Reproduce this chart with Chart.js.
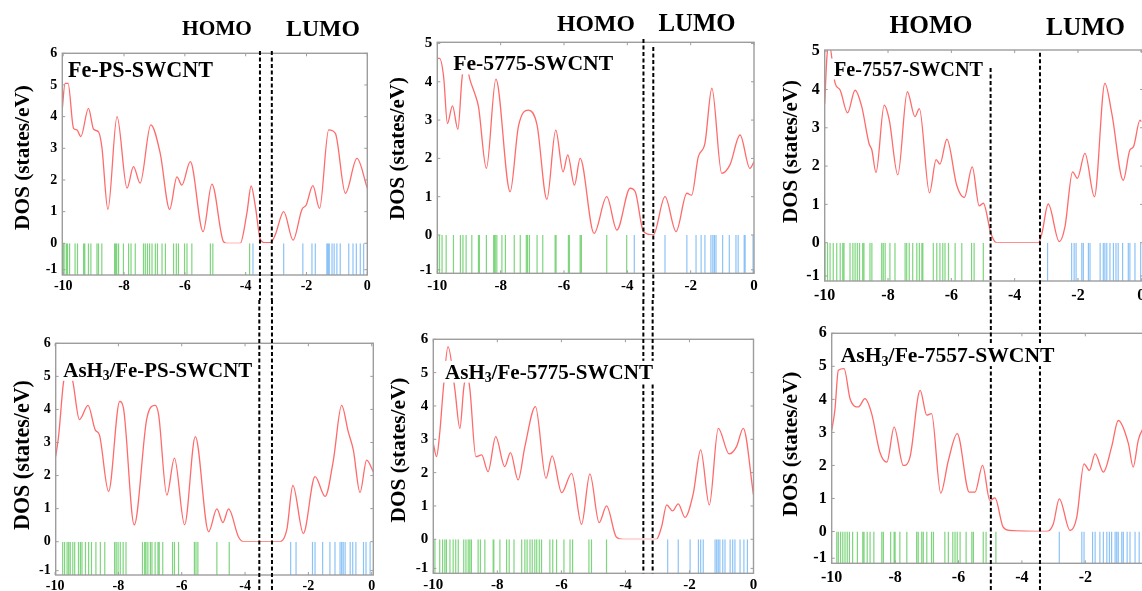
<!DOCTYPE html>
<html><head><meta charset="utf-8">
<script src="https://cdn.jsdelivr.net/npm/chart.js@4.4.1/dist/chart.umd.min.js"></script>
<style>
html,body{margin:0;padding:0;background:#fff;}
body{width:1142px;height:591px;position:relative;overflow:hidden;}
canvas{position:absolute;}
</style></head><body>
<script>
// ================= DATA =================
const xTickValues = [-10, -8, -6, -4, -2, 0];
const dosTicks6 = [0, 1, 2, 3, 4, 5, 6];
const dosTicks5 = [0, 1, 2, 3, 4, 5];
const stickTicks = [-1];
const bandNames = ['HOMO', 'LUMO'];
const yAxisTitle = 'DOS (states/eV)';

// Fe-PS-SWCNT
const fePsTitle = [['Fe-PS-SWCNT', 0]];
const fePsEnergy = [-10.03,-9.94,-9.84,-9.66,-9.55,-9.42,-9.17,-9.00,-8.84,-8.73,-8.53,-8.23,-7.90,-7.69,-7.47,-7.12,-6.81,-6.50,-6.26,-6.10,-5.82,-5.40,-5.11,-4.73,-4.62,-4.18,-3.96,-3.82,-3.68,-3.52,-3.36,-3.19,-3.03,-2.75,-2.44,-2.15,-2.01,-1.79,-1.57,-1.27,-1.05,-0.72,-0.34,0];
const fePsDos = [4.25,5.05,5.05,3.63,3.58,3.37,4.26,3.60,3.52,3.05,1.07,4.00,1.74,2.42,1.90,3.74,2.84,1.07,2.10,1.84,2.58,0.37,1.87,0.05,0.00,0.00,0.95,1.81,1.16,0.13,0.02,0.02,0.26,1.00,0.10,1.07,1.21,1.82,1.10,3.58,3.47,1.58,2.68,1.74];
const fePsOcc = [-10.01,-9.97,-9.90,-9.86,-9.79,-9.61,-9.53,-9.33,-9.29,-9.17,-9.09,-8.89,-8.84,-8.73,-8.31,-8.28,-8.24,-8.18,-8.02,-7.85,-7.77,-7.63,-7.36,-7.30,-7.23,-7.16,-7.08,-6.97,-6.90,-6.75,-6.64,-6.37,-6.28,-6.21,-6.01,-5.93,-5.77,-5.16,-5.08,-3.87];
const fePsUnocc = [-3.76,-2.75,-2.12,-1.82,-1.71,-1.33,-1.29,-1.25,-1.16,-1.09,-1.00,-0.89,-0.61,-0.47,-0.36,-0.23,-0.12];
const fePsGap = [-3.53, -3.14];

// AsH3/Fe-PS-SWCNT
const asFePsTitle = [['AsH', 0], ['3', 1], ['/Fe-PS-SWCNT', 0]];
const asFePsEnergy = [-9.98,-9.89,-9.73,-9.59,-9.44,-9.23,-8.96,-8.73,-8.60,-8.31,-7.96,-7.84,-7.50,-7.10,-6.84,-6.73,-6.47,-6.23,-5.91,-5.57,-5.15,-4.89,-4.70,-4.52,-4.21,-4.05,-2.89,-2.68,-2.49,-2.16,-1.79,-1.47,-1.21,-0.95,-0.74,-0.58,-0.37,-0.16,0.05];
const asFePsDos = [2.58,3.18,4.85,5.30,4.85,3.69,4.12,3.38,3.23,1.52,4.24,4.04,0.51,3.74,4.12,3.84,1.41,2.53,0.51,3.18,0.30,0.99,0.58,0.99,0.15,0.00,0.00,0.37,1.70,0.25,1.97,1.37,2.47,4.12,3.32,2.77,1.49,2.47,2.12];
const asFePsOcc = [-9.76,-9.70,-9.62,-9.57,-9.52,-9.44,-9.38,-9.26,-9.20,-9.15,-9.04,-8.94,-8.85,-8.71,-8.57,-8.43,-8.12,-8.07,-8.01,-7.94,-7.85,-7.76,-7.24,-7.17,-7.13,-7.07,-6.99,-6.94,-6.84,-6.75,-6.71,-6.60,-6.29,-6.23,-6.10,-5.60,-5.55,-5.49,-4.89,-4.50];
const asFePsUnocc = [-2.56,-2.39,-1.87,-1.79,-1.55,-1.32,-1.16,-1.00,-0.95,-0.90,-0.84,-0.68,-0.60,-0.50,-0.26,-0.18,-0.05];
const asFePsGap = [-3.55, -3.15];

// Fe-5775-SWCNT
const fe5775Title = [['Fe-5775-SWCNT', 0]];
const fe5775Energy = [-10.0,-9.93,-9.80,-9.68,-9.52,-9.35,-9.22,-9.11,-8.98,-8.80,-8.70,-8.45,-8.15,-7.70,-7.44,-7.12,-6.85,-6.54,-6.26,-6.03,-5.88,-5.67,-5.49,-5.05,-4.65,-4.33,-3.91,-3.75,-3.49,-3.18,-2.81,-2.46,-2.12,-1.97,-1.76,-1.55,-1.33,-1.02,-0.76,-0.44,-0.13,0];
const fe5775Dos = [4.61,4.61,4.13,2.91,3.37,2.76,4.09,4.60,4.09,3.65,3.35,1.74,4.07,1.13,2.83,3.26,2.87,0.93,2.74,1.65,2.09,1.30,2.00,0.04,1.00,0.13,1.22,1.13,0.09,0.00,1.00,0.09,1.09,1.04,2.04,2.39,3.83,1.61,1.83,2.61,1.74,1.91];
const fe5775Occ = [-9.99,-9.93,-9.85,-9.72,-9.49,-9.27,-9.19,-9.09,-8.91,-8.70,-8.67,-8.45,-8.22,-8.19,-8.17,-8.12,-7.96,-7.85,-7.57,-7.38,-7.19,-7.15,-7.09,-6.85,-6.67,-6.28,-6.25,-5.86,-5.83,-5.49,-5.45,-4.65,-4.02];
const fe5775Unocc = [-3.78,-2.81,-2.12,-1.83,-1.67,-1.55,-1.36,-1.30,-1.25,-1.20,-0.99,-0.78,-0.57,-0.50,-0.31,-0.28,-0.03];
const fe5775Gap = [-3.49, -3.18];

// AsH3/Fe-5775-SWCNT
const asFe5775Title = [['AsH', 0], ['3', 1], ['/Fe-5775-SWCNT', 0]];
const asFe5775Energy = [-10.0,-9.90,-9.80,-9.69,-9.54,-9.33,-9.17,-9.05,-8.96,-8.86,-8.67,-8.49,-8.29,-8.05,-7.77,-7.59,-7.35,-7.14,-6.81,-6.48,-6.29,-5.99,-5.68,-5.37,-5.11,-4.82,-4.59,-4.28,-4.07,-3.03,-2.87,-2.71,-2.53,-2.35,-2.14,-1.88,-1.65,-1.38,-1.10,-0.76,-0.53,-0.32,0];
const asFe5775Dos = [2.88,2.48,3.18,4.48,5.78,4.53,3.33,4.53,5.00,4.53,2.48,2.53,2.03,3.08,2.18,2.60,1.78,2.78,3.98,1.83,2.50,1.40,1.98,0.45,1.96,0.50,1.00,0.06,0.00,0.00,0.38,1.03,0.85,1.06,0.66,1.38,2.68,1.03,3.33,2.56,2.78,3.33,1.33];
const asFe5775Occ = [-9.95,-9.80,-9.71,-9.64,-9.59,-9.48,-9.38,-9.30,-9.22,-9.05,-8.98,-8.91,-8.86,-8.81,-8.60,-8.53,-8.39,-8.13,-8.11,-7.92,-7.71,-7.63,-7.48,-7.24,-7.14,-7.07,-6.98,-6.91,-6.83,-6.77,-6.69,-6.62,-6.36,-6.27,-6.15,-5.92,-5.73,-5.65,-5.14,-5.06,-4.59];
const asFe5775Unocc = [-2.68,-2.35,-1.98,-1.72,-1.65,-1.57,-1.20,-1.15,-1.10,-1.05,-0.96,-0.89,-0.73,-0.65,-0.58,-0.42,-0.30,-0.19];
const asFe5775Gap = [-3.44, -3.15];

// Fe-7557-SWCNT
const fe7557Title = [['Fe-7557-SWCNT', 0]];
const fe7557Energy = [-10.0,-9.93,-9.86,-9.67,-9.51,-9.28,-9.04,-8.83,-8.60,-8.51,-8.38,-8.12,-7.96,-7.69,-7.39,-7.15,-7.01,-6.69,-6.48,-6.36,-6.14,-5.83,-5.59,-5.34,-5.12,-4.99,-4.75,-4.57,-3.25,-3.14,-2.94,-2.59,-2.41,-2.17,-2.02,-1.78,-1.48,-1.15,-0.93,-0.57,-0.36,-0.25,-0.04,0];
const fe7557Dos = [3.63,4.85,5.20,4.16,3.98,3.39,3.98,3.55,2.59,2.42,1.83,3.59,3.20,1.77,3.94,3.29,3.50,1.30,2.17,2.05,2.70,1.50,1.18,1.98,0.96,1.03,0.24,0.00,0.00,0.24,1.01,0.03,0.42,1.85,1.68,2.33,1.20,4.16,3.37,1.63,2.42,2.50,3.20,3.16];
const fe7557Occ = [-9.99,-9.91,-9.83,-9.73,-9.62,-9.51,-9.43,-9.39,-9.20,-9.11,-9.04,-8.97,-8.90,-8.80,-8.76,-8.57,-8.51,-8.20,-8.15,-8.09,-7.94,-7.78,-7.46,-7.41,-7.33,-7.22,-7.09,-7.01,-6.93,-6.90,-6.57,-6.46,-6.36,-6.27,-6.20,-6.09,-5.88,-5.67,-5.36,-5.28,-4.99];
const fe7557Unocc = [-2.96,-2.20,-2.12,-2.06,-1.88,-1.83,-1.67,-1.62,-1.30,-1.20,-1.15,-1.09,-0.99,-0.88,-0.80,-0.73,-0.59,-0.41,-0.36,-0.20,-0.02];
const fe7557Gap = [-4.76, -3.20];

// AsH3/Fe-7557-SWCNT
const asFe7557Title = [['AsH', 0], ['3', 1], ['/Fe-7557-SWCNT', 0]];
const asFe7557Energy = [-10.0,-9.90,-9.79,-9.61,-9.42,-9.16,-8.95,-8.74,-8.48,-8.26,-8.03,-7.74,-7.53,-7.21,-7.00,-6.85,-6.56,-6.32,-6.04,-5.66,-5.48,-5.24,-5.01,-4.85,-4.59,-4.38,-3.22,-3.01,-2.82,-2.48,-2.27,-2.04,-1.87,-1.69,-1.43,-1.17,-0.96,-0.64,-0.49,-0.33,-0.21,-0.10,0];
const asFe7557Dos = [3.06,3.67,4.88,4.93,4.02,3.77,4.02,3.57,2.40,2.10,3.16,2.00,2.25,4.27,3.52,3.57,1.16,2.15,2.96,1.19,1.19,2.00,0.94,1.02,0.13,0.03,0.00,0.23,0.99,0.03,0.43,2.05,1.85,2.35,1.80,2.56,3.36,2.66,1.95,2.76,3.06,3.15,3.00];
const asFe7557Occ = [-9.84,-9.79,-9.72,-9.65,-9.58,-9.51,-9.44,-9.34,-9.19,-9.02,-8.98,-8.88,-8.79,-8.67,-8.42,-8.37,-8.14,-8.03,-8.00,-7.85,-7.63,-7.32,-7.27,-7.16,-7.11,-7.00,-6.85,-6.79,-6.43,-6.32,-6.18,-6.11,-6.04,-5.95,-5.76,-5.58,-5.53,-5.22,-5.13,-4.82];
const asFe7557Unocc = [-2.82,-2.11,-2.04,-1.77,-1.69,-1.54,-1.43,-1.32,-1.24,-1.17,-1.06,-1.01,-0.96,-0.85,-0.80,-0.68,-0.59,-0.43,-0.30];
const asFe7557Gap = [-4.98, -3.43];

// ================= LAYOUT / STYLE =================
const FAMILY = '"Liberation Serif", "Times New Roman", serif';
const SUB = 0.65;
const fontStr = s => `bold ${s}px ${FAMILY}`;
const COLORS = { dos: '#ff6b6b', occ: 'rgba(40,185,40,0.6)', unocc: 'rgba(45,145,240,0.55)', frame: '#9d9d9d' };

const panels = [
  { energy: fePsEnergy, dos: fePsDos, occ: fePsOcc, unocc: fePsUnocc, gap: fePsGap, title: fePsTitle, yTicks: dosTicks6,
    canvas: [0, 0, 385, 305], area: [62.3, 53.3, 367.3, 275], zero: 243.3, xRange: [-10.03, 0], yMax: 6, y2Min: -1.2,
    titlePos: { x: 68, y: 69.5, w: 145 }, yTitle: { x: 22, y: 157.5, len: 145 }, gapY: [[51, 300], [51, 300]], tickFont: 14, xPad: 3,
    bands: [{ x: 217, y: 28, w: 70 }, { x: 323, y: 28, w: 74 }] },
  { energy: asFePsEnergy, dos: asFePsDos, occ: asFePsOcc, unocc: asFePsUnocc, gap: asFePsGap, title: asFePsTitle, yTicks: dosTicks6,
    canvas: [0, 300, 385, 291], area: [55.7, 343.3, 373.3, 575], zero: 541.7, xRange: [-9.98, 0.05], yMax: 6, y2Min: -1.15,
    titlePos: { x: 63.3, y: 370, w: 189 }, yTitle: { x: 22, y: 455, len: 150 }, gapY: [[300, 591], [300, 591]], tickFont: 14, xPad: 3, bands: [] },
  { energy: fe5775Energy, dos: fe5775Dos, occ: fe5775Occ, unocc: fe5775Unocc, gap: fe5775Gap, title: fe5775Title, yTicks: dosTicks5,
    canvas: [385, 0, 385, 305], area: [437.3, 42.3, 754, 273.3], zero: 235, xRange: [-10, 0], yMax: 5.03, y2Min: -1.1,
    titlePos: { x: 453.3, y: 63.3, w: 160 }, yTitle: { x: 397, y: 148.5, len: 143 }, gapY: [[39, 300], [47, 300]], tickFont: 15, xPad: 4,
    bands: [{ x: 596, y: 23, w: 78 }, { x: 697, y: 23, w: 77 }] },
  { energy: asFe5775Energy, dos: asFe5775Dos, occ: asFe5775Occ, unocc: asFe5775Unocc, gap: asFe5775Gap, title: asFe5775Title, yTicks: dosTicks6,
    canvas: [385, 300, 385, 291], area: [433.3, 339.3, 753.5, 573.3], zero: 539.3, xRange: [-10, 0], yMax: 6, y2Min: -1.17,
    titlePos: { x: 445, y: 371.7, w: 208 }, yTitle: { x: 398, y: 450, len: 145 }, gapY: [[300, 573.3], [300, 573.3]], tickFont: 15, xPad: 3, bands: [] },
  { energy: fe7557Energy, dos: fe7557Dos, occ: fe7557Occ, unocc: fe7557Unocc, gap: fe7557Gap, title: fe7557Title, yTicks: dosTicks5,
    canvas: [770, 0, 390, 315], area: [824.7, 50, 1143, 281], zero: 242.7, xRange: [-10, 0.054], yMax: 5.03, y2Min: -1.15,
    titlePos: { x: 834, y: 69, w: 149 }, yTitle: { x: 790, y: 151.5, len: 143 }, gapY: [[68, 300], [52.7, 300]], tickFont: 16, xPad: 5,
    bands: [{ x: 931, y: 25, w: 83 }, { x: 1085.5, y: 27, w: 79 }] },
  { energy: asFe7557Energy, dos: asFe7557Dos, occ: asFe7557Occ, unocc: asFe7557Unocc, gap: asFe7557Gap, title: asFe7557Title, yTicks: dosTicks6,
    canvas: [770, 300, 390, 291], area: [831.7, 333.3, 1148.7, 563.3], zero: 531.5, xRange: [-10, 0], yMax: 6, y2Min: -1.19,
    titlePos: { x: 840.7, y: 355, w: 214 }, yTitle: { x: 790, y: 444, len: 145 }, gapY: [[300, 591], [300, 591]], tickFont: 16, xPad: 5, bands: [] }
];

function fitSize(ctx, parts, target) {
  let w = 0;
  parts.forEach(([t, sub]) => { ctx.font = fontStr(sub ? 20 * SUB : 20); w += ctx.measureText(t).width; });
  return 20 * target / w;
}

const decor = {
  id: 'decor',
  afterDatasetsDraw(chart, args, o) {
    const { ctx, chartArea: a } = chart;
    const sx = chart.scales.x, sy = chart.scales.y, sy2 = chart.scales.y2;
    const ox = o.origin[0], oy = o.origin[1];
    ctx.save();
    // frame
    ctx.strokeStyle = COLORS.frame;
    ctx.lineWidth = 1.4;
    ctx.strokeRect(a.left, a.top, a.right - a.left, a.bottom - a.top);
    ctx.lineWidth = 1;
    ctx.beginPath();
    sx.ticks.forEach(t => {
      const p = sx.getPixelForValue(t.value);
      ctx.moveTo(p, a.top); ctx.lineTo(p, a.top + 3);
      ctx.moveTo(p, a.bottom); ctx.lineTo(p, a.bottom - 3);
    });
    [sy, sy2].forEach(s => s.ticks.forEach(t => {
      const p = s.getPixelForValue(t.value);
      ctx.moveTo(a.left, p); ctx.lineTo(a.left + 3, p);
      ctx.moveTo(a.right, p); ctx.lineTo(a.right - 3, p);
    }));
    ctx.stroke();
    // HOMO / LUMO dashed lines
    ctx.strokeStyle = '#000';
    ctx.lineWidth = 2;
    ctx.setLineDash([4, 2.5]);
    o.gap.forEach((v, i) => {
      const p = sx.getPixelForValue(v);
      ctx.beginPath();
      ctx.moveTo(p, o.gapY[i][0] - oy);
      ctx.lineTo(p, o.gapY[i][1] - oy);
      ctx.stroke();
    });
    ctx.setLineDash([]);
    // panel title with white box
    const T = o.titlePos;
    const s = fitSize(ctx, o.title, T.w);
    const h = 0.42 * s + 2;
    ctx.fillStyle = '#fff';
    ctx.fillRect(T.x - ox - 3, T.y - oy - h, T.w + 6, 2 * h);
    ctx.fillStyle = '#000';
    ctx.textAlign = 'left';
    ctx.textBaseline = 'alphabetic';
    let x = T.x - ox;
    o.title.forEach(([t, sub]) => {
      ctx.font = fontStr(sub ? s * SUB : s);
      ctx.fillText(t, x, T.y - oy + 0.33 * s + (sub ? 0.16 * s : 0));
      x += ctx.measureText(t).width;
    });
    // y axis title
    const Y = o.yTitle;
    const ys = fitSize(ctx, [[yAxisTitle, 0]], Y.len);
    ctx.save();
    ctx.translate(Y.x - ox, Y.y - oy);
    ctx.rotate(-Math.PI / 2);
    ctx.font = fontStr(ys);
    ctx.textAlign = 'center';
    ctx.fillText(yAxisTitle, 0, 0.33 * ys);
    ctx.restore();
    // HOMO / LUMO labels
    o.bands.forEach((b, i) => {
      const bs = fitSize(ctx, [[bandNames[i], 0]], b.w);
      ctx.font = fontStr(bs);
      ctx.textAlign = 'center';
      ctx.fillText(bandNames[i], b.x - ox, b.y - oy + 0.33 * bs);
    });
    ctx.restore();
  }
};

function stickPoints(energies, bottom) {
  const pts = [];
  energies.forEach(e => { pts.push({ x: e, y: 0 }, { x: e, y: bottom }, { x: e, y: null }); });
  return pts;
}

panels.forEach(P => {
  const [cl, ct, cw, ch] = P.canvas;
  const [al, at, ar, ab] = P.area;
  const cv = document.createElement('canvas');
  cv.width = cw; cv.height = ch;
  cv.style.left = cl + 'px'; cv.style.top = ct + 'px';
  cv.style.width = cw + 'px'; cv.style.height = ch + 'px';
  document.body.appendChild(cv);
  const yW = al - cl;
  const xH = ct + ch - ab;
  const tickFont = { family: FAMILY, size: P.tickFont, weight: 'bold' };
  const yCommon = {
    type: 'linear', position: 'left', stack: 'dos',
    grid: { display: false, drawTicks: false }, border: { display: false },
    ticks: { font: tickFont, color: '#000', padding: 5, autoSkip: false },
    afterFit: s => { s.width = yW; }
  };
  new Chart(cv, {
    type: 'line',
    data: {
      datasets: [
        { data: P.energy.map((e, i) => ({ x: e, y: P.dos[i] })), yAxisID: 'y', borderColor: COLORS.dos, borderWidth: 1.3,
          pointRadius: 0, cubicInterpolationMode: 'monotone', fill: false },
        { data: stickPoints(P.occ, P.y2Min), yAxisID: 'y2', borderColor: COLORS.occ, borderWidth: 1.2, pointRadius: 0, spanGaps: false, fill: false },
        { data: stickPoints(P.unocc, P.y2Min), yAxisID: 'y2', borderColor: COLORS.unocc, borderWidth: 1.2, pointRadius: 0, spanGaps: false, fill: false }
      ]
    },
    options: {
      responsive: false, animation: false, devicePixelRatio: 1,
      layout: { padding: { left: 0, top: at - ct, right: cl + cw - ar, bottom: 0 } },
      plugins: {
        legend: { display: false }, tooltip: { enabled: false },
        decor: { origin: [cl, ct], gap: P.gap, gapY: P.gapY, title: P.title, titlePos: P.titlePos, yTitle: P.yTitle, bands: P.bands }
      },
      scales: {
        x: {
          type: 'linear', position: 'bottom', min: P.xRange[0], max: P.xRange[1],
          grid: { display: false, drawTicks: false }, border: { display: false },
          ticks: { font: tickFont, color: '#000', padding: P.xPad, maxRotation: 0, autoSkip: false },
          afterBuildTicks: s => { s.ticks = xTickValues.map(v => ({ value: v })); },
          afterFit: s => { s.height = xH; }
        },
        y: Object.assign({}, yCommon, {
          min: 0, max: P.yMax, weight: 1, stackWeight: P.zero - at,
          afterBuildTicks: s => { s.ticks = P.yTicks.map(v => ({ value: v })); }
        }),
        y2: Object.assign({}, yCommon, {
          min: P.y2Min, max: 0, weight: 0, stackWeight: ab - P.zero,
          afterBuildTicks: s => { s.ticks = stickTicks.map(v => ({ value: v })); }
        })
      }
    },
    plugins: [decor]
  });
});
</script>
</body></html>
